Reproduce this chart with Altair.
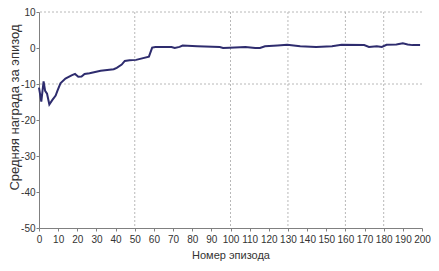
import altair as alt
import pandas as pd

episodes = [0, 1.2, 2.4, 3.2, 4.2, 5.4, 7, 8.7, 9.6, 11.2, 13.8, 17, 18.8, 20.5, 22.2, 23.8, 26.4,
            32.2, 39, 40.6, 43.2, 44.8, 47.3, 50.7, 57.4, 59.1, 60.8, 69.2, 70.9, 73.4, 75, 82.6,
            94.4, 96.1, 99.5, 107.8, 112.9, 115.4, 118, 124.6, 129.6, 136.4, 144.7, 153, 158,
            169.8, 172.3, 176.4, 179, 181.5, 186.6, 190, 192.5, 195, 199]
reward = [-11, -14.9, -9.3, -11.9, -12.7, -15.7, -14.4, -13.2, -11.9, -9.8, -8.5, -7.6, -7.2, -8.0, -7.9,
          -7.2, -7.0, -6.3, -5.9, -5.5, -4.6, -3.6, -3.4, -3.3, -2.4, 0.1, 0.3, 0.25, 0.0, 0.3, 0.7, 0.5,
          0.25, 0.0, 0.1, 0.3, 0.0, 0.0, 0.5, 0.7, 0.9, 0.5, 0.25, 0.5, 0.9,
          0.8, 0.3, 0.5, 0.3, 0.9, 1.0, 1.3, 1.0, 0.8, 0.8]

vgrid = [50, 100, 130, 160, 180]
hgrid = [10, -10]
x_ticks = list(range(0, 201, 10))
y_ticks = list(range(-50, 11, 10))

df = pd.DataFrame({"ep": episodes, "r": reward})

FONT = "Liberation Sans"
xs = alt.Scale(domain=[0, 200], nice=False, zero=False)
ys = alt.Scale(domain=[-50, 10], nice=False, zero=False)

x_axis = alt.Axis(title="Номер эпизода", values=x_ticks, grid=False,
                  domainColor="#808080", tickColor="#808080", tickSize=3,
                  labelColor="#333333", labelFontSize=10, labelFont=FONT,
                  labelPadding=3, labelFlush=False,
                  titleFont=FONT, titleFontSize=11, titleFontWeight="normal",
                  titleColor="#333333", titlePadding=5)
y_axis = alt.Axis(title="Средняя награда за эпизод", values=y_ticks, grid=False,
                  domainColor="#808080", tickColor="#808080", tickSize=3,
                  labelColor="#333333", labelFontSize=10, labelFont=FONT,
                  labelPadding=1, labelFlush=False, labelExpr="'' + datum.value",
                  titleFont=FONT, titleFontSize=13, titleFontWeight="normal",
                  titleColor="#333333", titleX=-25, titleY=95,
                  titleAngle=-90, titleAlign="center", titleBaseline="middle")

grid_style = dict(color="#b8b8b8", strokeDash=[2, 2], strokeWidth=1)

line = alt.Chart(df).mark_line(color="#2e2c6e", strokeWidth=2).encode(
    x=alt.X("ep:Q", scale=xs, axis=x_axis),
    y=alt.Y("r:Q", scale=ys, axis=y_axis),
)
vg = alt.Chart(pd.DataFrame({"v": vgrid})).mark_rule(**grid_style).encode(
    x=alt.X("v:Q", scale=xs, axis=x_axis))
hg = alt.Chart(pd.DataFrame({"h": hgrid})).mark_rule(**grid_style).encode(
    y=alt.Y("h:Q", scale=ys, axis=y_axis))

chart = alt.layer(vg, hg, line).properties(
    width=383, height=216,
    autosize=alt.AutoSizeParams(type="none"),
    padding={"left": 31, "top": 4, "right": 9, "bottom": 35},
).configure_view(stroke=None)

chart.save("out.html", embed_options={"renderer": "svg", "actions": False})
